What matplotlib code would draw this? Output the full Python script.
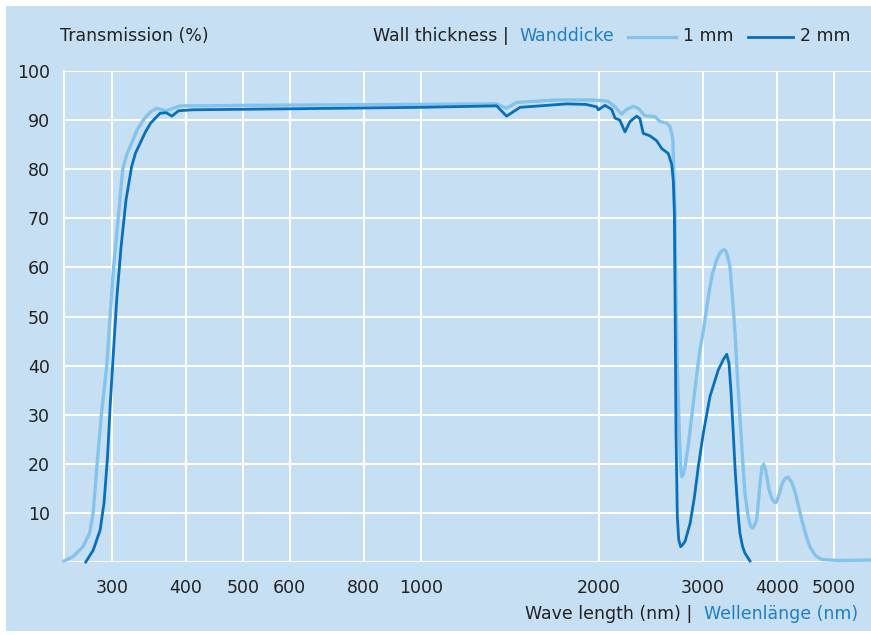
import matplotlib
matplotlib.use('Agg')
import matplotlib.pyplot as plt
from matplotlib.lines import Line2D
from matplotlib.patches import Rectangle

# colours
bg = '#c6dff3'
light_blue = '#86c3ea'
dark_blue = '#0a6fb9'
text_blue = '#1f7fc3'
text_dark = '#222222'

# 1 mm wall thickness
wl_1mm = [249, 258, 268, 275, 279, 283, 288, 294, 298, 302, 307.5, 313, 318, 324, 331, 339, 348, 357, 371, 391, 423,
          500, 700, 1000, 1343, 1396, 1452, 1697, 1882, 1932, 2000, 2050, 2075, 2130, 2185, 2229, 2287,
          2332, 2393, 2489, 2538, 2604, 2638, 2667, 2680, 2691, 2700, 2715, 2736, 2750, 2762, 2778, 2798,
          2835, 2871, 2920, 2965, 3004, 3063, 3110, 3164, 3200, 3230, 3260, 3285, 3310, 3333, 3365, 3399, 3430, 3465,
          3500, 3533, 3575, 3610, 3641, 3670, 3698, 3722, 3750, 3775, 3800, 3825, 3846, 3880, 3921, 3960,
          3987, 4030, 4076, 4130, 4183, 4240, 4294, 4350, 4408, 4480, 4551, 4650, 4764, 5116, 5773]
t_1mm = [0.2, 1.1, 3.1, 5.8, 10, 19.4, 30, 39.7, 50, 60, 70, 80, 83, 85.3, 88, 90, 91.6, 92.4, 91.9, 92.9, 92.9,
         93.0, 93.1, 93.2, 93.3, 92.4, 93.6, 94.1, 94.1, 94.1, 94.0, 93.9, 93.8, 92.7, 91.2, 92.2, 92.8,
         92.4, 90.9, 90.7, 89.7, 89.4, 88.7, 86.3, 78.1, 70.7, 55, 39.8, 26.2, 19.5, 17.4, 17.8, 19.4,
         24, 29.6, 37, 43.2, 47, 54, 58.5, 61.5, 62.8, 63.4, 63.6, 63.2, 61.8, 60.1, 54, 46.6, 38, 29.6,
         21, 14, 9.5, 7.3, 6.9, 7.6, 8.6, 12, 16.5, 19.3, 19.9, 19, 17.4, 14.8, 13, 12.2,
         12.1, 13.5, 15.7, 17, 17.3, 16.2, 14.3, 11.5, 8.6, 5.5, 3.1, 1.3, 0.5, 0.3, 0.4]

# 2 mm wall thickness
wl_2mm = [271, 279, 286.6, 291, 295, 298, 302, 306, 311, 317, 324, 329, 335, 342, 349, 362, 371, 379, 389, 412,
          600, 1000, 1343, 1396, 1471, 1764, 1900, 1983, 1996, 2048, 2102, 2130, 2170, 2214, 2258, 2317,
          2347, 2377, 2440, 2505, 2555, 2621, 2656, 2673, 2684, 2691, 2701, 2715, 2730, 2751, 2775, 2798,
          2854, 2900, 2946, 3004, 3083, 3184, 3250, 3291, 3320, 3345, 3376, 3400, 3421, 3445, 3465, 3500,
          3533, 3603]
t_2mm = [0, 2.4, 6.5, 12, 21.4, 31.6, 43.2, 54, 64.2, 73.7, 80.5, 83.3, 85.3, 87.6, 89.4, 91.4, 91.5, 90.8, 91.9, 92.1,
         92.3, 92.6, 92.9, 90.8, 92.6, 93.3, 93.2, 92.7, 92.1, 93.0, 92.2, 90.4, 90.0, 87.6, 89.7, 90.8,
         90.3, 87.3, 86.8, 85.8, 84.2, 83.2, 81.0, 77.5, 71, 53.4, 26.2, 9.2, 4.5, 3.1, 3.6, 4.2,
         7.9, 13, 19.4, 26.2, 33.7, 39.1, 41.3, 42.3, 40.5, 35, 26.2, 19, 14, 9, 5.8, 3.2,
         1.8, 0.2]

xticks = [300, 400, 500, 600, 800, 1000, 2000, 3000, 4000, 5000]
yticks = [0, 10, 20, 30, 40, 50, 60, 70, 80, 90, 100]

W, H = 871, 635
fig = plt.figure(figsize=(W / 100, H / 100), dpi=100, facecolor='white')
fig.patches.append(Rectangle((6 / W, 1 - 631 / H), 1 - 6 / W, (631 - 6) / H,
                             transform=fig.transFigure, facecolor=bg, edgecolor='none', zorder=-10))

ax = fig.add_axes([64 / W, 1 - 562 / H, 1 - 64 / W, (562 - 71) / H])
ax.set_facecolor(bg)
ax.set_xscale('log')
ax.set_xlim(249, 5773)
ax.set_ylim(0, 100)

ax.set_xticks(xticks)
ax.set_xticklabels([str(v) for v in xticks])
ax.xaxis.set_minor_locator(matplotlib.ticker.NullLocator())
ax.set_yticks(yticks)
ax.set_yticklabels(['' if v == 0 else str(v) for v in yticks])
ax.tick_params(axis='both', length=0, labelsize=12.5, colors=text_dark)
ax.tick_params(axis='x', pad=12)
ax.tick_params(axis='y', pad=10)
ax.grid(True, color='white', linewidth=1.4)
ax.set_axisbelow(True)
for s in ['top', 'right', 'bottom']:
    ax.spines[s].set_visible(False)
ax.spines['left'].set_color('white')
ax.spines['left'].set_linewidth(1.4)

ax.plot(wl_1mm, t_1mm, color=light_blue, linewidth=2.4, solid_joinstyle='round', clip_on=False, zorder=3)
ax.plot(wl_2mm, t_2mm, color=dark_blue, linewidth=2.0, solid_joinstyle='round', clip_on=False, zorder=4)

# header
fs = 12.5
fig.text(60 / W, 1 - 36 / H, 'Transmission (%)', fontsize=fs, color=text_dark, va='center')
fig.text(614 / W, 1 - 36 / H, 'Wanddicke', fontsize=fs, color=text_blue, va='center', ha='right')
fig.text(509 / W, 1 - 36 / H, 'Wall thickness |', fontsize=fs, color=text_dark, va='center', ha='right')
fig.add_artist(Line2D([628 / W, 676 / W], [1 - 37 / H, 1 - 37 / H], color=light_blue, linewidth=2.4))
fig.text(683 / W, 1 - 36 / H, '1 mm', fontsize=fs, color=text_dark, va='center')
fig.add_artist(Line2D([748 / W, 793 / W], [1 - 37 / H, 1 - 37 / H], color=dark_blue, linewidth=2.0))
fig.text(800 / W, 1 - 36 / H, '2 mm', fontsize=fs, color=text_dark, va='center')

# x axis caption
fig.text(858 / W, 1 - 614 / H, 'Wellenlänge (nm)', fontsize=fs, color=text_blue, va='center', ha='right')
fig.text(692 / W, 1 - 614 / H, 'Wave length (nm) |', fontsize=fs, color=text_dark, va='center', ha='right')

fig.savefig('out.png', dpi=100, facecolor='white')
